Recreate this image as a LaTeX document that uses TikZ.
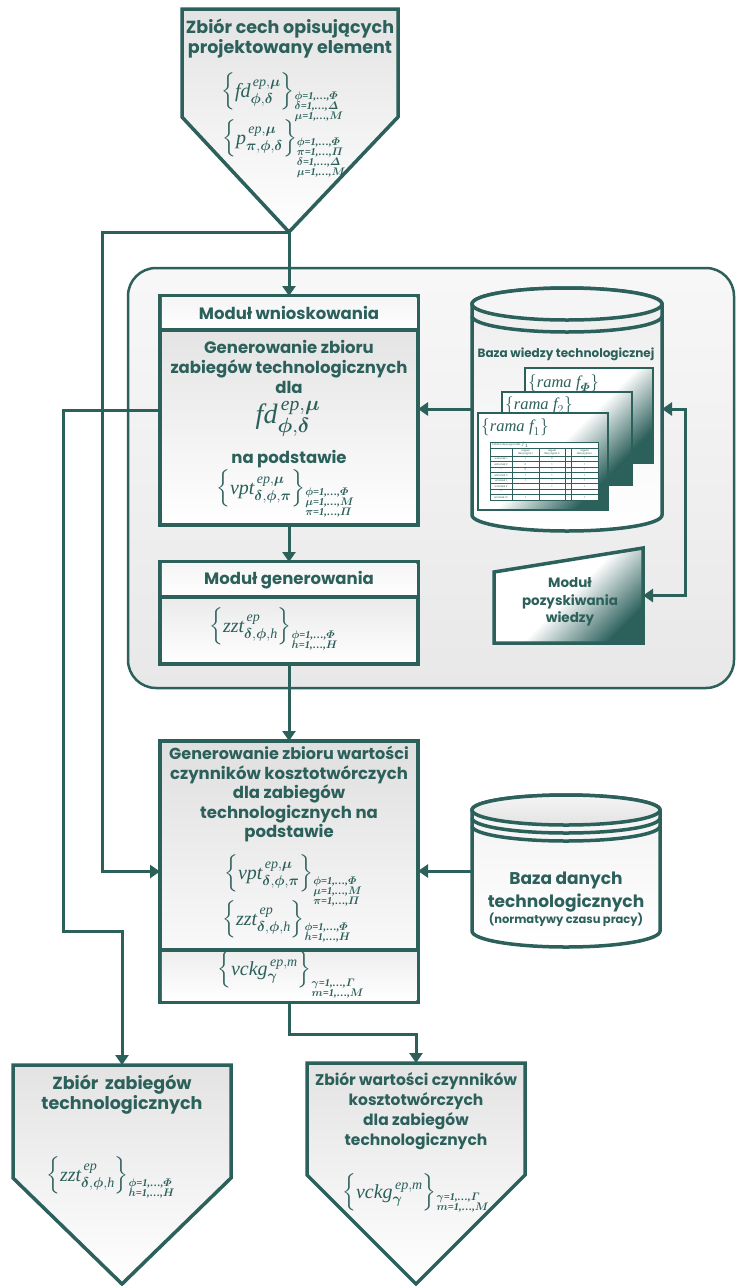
\documentclass[tikz,border=0pt]{standalone}
\usepackage{amsmath}
\usepackage{fontspec}
\setmainfont{Poppins}
\newfontfamily\timesf{Liberation Serif}
\usetikzlibrary{arrows.meta}
\definecolor{tl}{RGB}{44,96,91}
\newcommand\tv[1]{\text{\timesf\itshape #1}}
\newcommand\tq[1]{{\timesf\bfseries\itshape #1}}
\newcommand\rw[2]{$#1$\tq{=1,\dots,}$#2$}
\newcommand\lst[2]{\raisebox{#1}{\fontsize{10.5}{9}\selectfont\boldmath\begin{tabular}[t]{@{}l@{}}#2\end{tabular}}}
\newcommand\fset[3]{$\Bigl\{\tv{#1}^{\,#2}_{#3}\Bigr\}$}
\newcommand\bs[1]{\boldsymbol{#1}}
\tikzset{
  conn/.style={draw=tl, line width=3pt, -{Triangle[length=10pt,width=13pt]}},
  conntwo/.style={draw=tl, line width=3pt, {Triangle[length=10pt,width=13pt]}-{Triangle[length=10pt,width=13pt]}},
  bxnode/.style={draw=tl, line width=3.5pt, inner sep=0pt, outer sep=0pt},
  inv/.style={inner sep=0pt, outer sep=0pt},
  bord/.style={draw=tl, line width=3.5pt},
  txt/.style={text=tl, font=\bfseries\fontsize{16.5}{18}\selectfont, inner sep=0pt, anchor=base},
  btxt/.style={txt, font=\bfseries\fontsize{17.5}{18}\selectfont},
  rtxt/.style={txt, font=\bfseries\fontsize{15.5}{18}\selectfont},
  stxt/.style={text=tl, font=\bfseries\fontsize{13.5}{16}\selectfont, inner sep=0pt, anchor=base},
  fm/.style={text=tl, font=\fontsize{20}{22}\selectfont, inner sep=0pt, anchor=base west},
  frame/.style={draw=tl, line width=2.5pt, top color=white, bottom color=tl, middle color=white, shading angle=45},
  tb/.style={text=tl, font=\fontsize{2.6}{3}\selectfont, inner sep=0pt, align=center},
}
\begin{document}
\begin{tikzpicture}[x=1pt,y=-1pt]
\useasboundingbox (0,0) rectangle (736,1286);
% container
\path[draw=tl, line width=2.5pt, rounded corners=28pt, top color=gray!6, bottom color=gray!18] (128,268) rectangle (734,688);

% top pentagon
\path[bord, top color=gray!22, bottom color=white] (182,9) -- (398,9) -- (398,117) -- (289,232) -- (182,117) -- cycle;
\coordinate (tip1) at (289,232);
\coordinate (lx) at (102,232);
\node[btxt] (a1) at (290,33) {Zbiór cech opisujących};
\node[btxt] (a2) at (290,53) {projektowany element};
\node[fm] (a3) at (221,97) {\fset{fd}{\tv{ep},\bs\mu}{\bs\phi,\bs\delta}\lst{-2pt}{\rw\phi\varPhi\\\rw\delta\varDelta\\\rw\mu M}};
\node[fm] (a4) at (222,144) {\fset{p}{\tv{ep},\bs\mu}{\bs\pi,\bs\phi,\bs\delta}\lst{-1pt}{\rw\phi\varPhi\\\rw\pi\varPi\\\rw\delta\varDelta\\\rw\mu M}};

% Modul wnioskowania
\node[bxnode, minimum width=258pt, minimum height=229pt, top color=gray!25, bottom color=white] (wn) at (289,410.5) {};
\fill[top color=gray!8, bottom color=white] (161.75,297.75) rectangle (416.25,330);
\draw[bord] (160,330) -- (418,330);
\node[txt] (b1) at (289,319) {Moduł wnioskowania};
\node[txt] (b2) at (289,353) {Generowanie zbioru};
\node[txt] (b3) at (289,373) {zabiegów technologicznych};
\node[txt] (b4) at (289,393) {dla};
\node[fm, font=\fontsize{28}{30}\selectfont, anchor=base] (b5) at (288,423) {$\tv{fd}^{\,\tv{ep},\bs\mu}_{\bs\phi,\bs\delta}$};
\node[txt] (b6) at (289,463) {na podstawie};
\node[fm] (b7) at (216,494) {\fset{vpt}{\tv{ep},\bs\mu}{\bs\delta,\bs\phi,\bs\pi}\lst{-1pt}{\rw\phi\varPhi\\\rw\mu M\\\rw\pi\varPi}};

% Modul generowania
\node[bxnode, minimum width=258pt, minimum height=102pt, top color=gray!25, bottom color=white] (mg) at (289,613) {};
\fill[top color=gray!8, bottom color=white] (161.75,563.75) rectangle (416.25,597);
\draw[bord] (160,597) -- (418,597);
\node[txt] (c1) at (289,584) {Moduł generowania};
\node[fm] (c2) at (209,632) {\fset{zzt}{\tv{ep}}{\bs\delta,\bs\phi,\tv{h}}\lst{-6pt}{\rw\phi\varPhi\\\rw h H}};

% knowledge base cylinder
\path[bord, top color=gray!14, bottom color=white] (472,304) -- (472,515) arc[start angle=180, end angle=360, x radius=95pt, y radius=16pt] -- (662,304) arc[start angle=0, end angle=180, x radius=95pt, y radius=16pt] -- cycle;
\path[bord, fill=gray!8] (567,304) ellipse [x radius=95pt, y radius=16pt];
\draw[bord] (472,316) arc[start angle=180, end angle=360, x radius=95pt, y radius=16pt];
\node[inv, minimum width=190pt, minimum height=244pt] (kb) at (567,409) {};
\node[txt, font=\bfseries\fontsize{12}{13}\selectfont] (k1) at (566,357) {Baza wiedzy technologicznej};
\path[frame] (525,368) rectangle (653,463);
\path[frame] (502,392) rectangle (632,485);
\path[frame] (478,413) rectangle (608,510);
\node[fm, font=\fontsize{16.5}{17}\selectfont] (k2) at (528,387) {$\{$\tv{rama} $\tv{f}_{\bs\varPhi}\}$};
\node[fm, font=\fontsize{16.5}{17}\selectfont] (k3) at (505,409) {$\{$\tv{rama} $\tv{f}_{2}\}$};
\node[fm, font=\fontsize{16.5}{17}\selectfont] (k4) at (481,431) {$\{$\tv{rama} $\tv{f}_{1}\}$};
% decision table
\fill[white] (490,442) rectangle (598,500);
\begin{scope}[draw=tl, line width=0.6pt]
\draw (490,442) rectangle (598,500);
\draw (490,448) -- (598,448);
\draw (490,456) -- (598,456);
\foreach \yy in {461.5,467,472.5,478,483.5,489,494.5} \draw (490,\yy) -- (598,\yy);
\foreach \xx in {512,539,565,571} \draw (\xx,448) -- (\xx,500);
\end{scope}
\node[tb, anchor=west] (tt) at (492,445) {Tablica decyzyjna dla $f_1$};
\node[tb] (th1) at (525.5,452) {reguła\\decyzyjna 1};
\node[tb] (th2) at (552,452) {reguła\\decyzyjna 2};
\node[tb] (th3) at (568,452) {\dots};
\node[tb] (th4) at (584.5,452) {reguła\\decyzyjna n};
\foreach \lab/\a/\b/\c [count=\i] in {warunek 1/1/0/1, warunek 2/0/1/1, {\dots\dots}/0/1/1, warunek n/1/1/1, wniosek 1/1/1/1, wniosek 2/{}/1/1, {\dots\dots}/{}/{}/{}, wniosek m/1/{}/1}{
  \node[tb] (tr\i) at (501,453.25+5.5*\i) {\lab};
  \node[tb] (ta\i) at (525.5,453.25+5.5*\i) {\a};
  \node[tb] (tb\i) at (552,453.25+5.5*\i) {\b};
  \node[tb] (td\i) at (568,453.25+5.5*\i) {\dots};
  \node[tb] (tc\i) at (584.5,453.25+5.5*\i) {\c};
}

% Modul pozyskiwania wiedzy
\path[bord, top color=white, bottom color=tl, middle color=white, shading angle=45] (494,572) -- (643,548) -- (643,643) -- (494,643) -- cycle;
\node[inv, minimum width=149pt, minimum height=95pt] (mp) at (568.5,595.5) {};
\node[stxt] (m1) at (570,587) {Moduł};
\node[stxt] (m2) at (570,605) {pozyskiwania};
\node[stxt] (m3) at (570,622) {wiedzy};
\coordinate (rj1) at (685,409);
\coordinate (rj2) at (685,595.5);

% Generowanie zbioru wartosci
\node[bxnode, minimum width=258pt, minimum height=261pt, top color=gray!25, bottom color=white] (gz) at (289,871.5) {};
\fill[top color=gray!14, bottom color=white] (161.75,950) rectangle (416.25,1000.25);
\draw[bord] (160,950) -- (418,950);
\node[txt, font=\bfseries\fontsize{16}{18}\selectfont] (g1) at (289,759) {Generowanie zbioru wartości};
\node[txt] (g2) at (289,779) {czynników kosztotwórczych};
\node[txt] (g3) at (289,798) {dla zabiegów};
\node[txt] (g4) at (289,818) {technologicznych na};
\node[txt] (g5) at (289,837) {podstawie};
\node[fm] (g6) at (224,879) {\fset{vpt}{\tv{ep},\bs\mu}{\bs\delta,\bs\phi,\bs\pi}\lst{-5pt}{\rw\phi\varPhi\\\rw\mu M\\\rw\pi\varPi}};
\node[fm] (g7) at (222,925) {\fset{zzt}{\tv{ep}}{\bs\delta,\bs\phi,\tv{h}}\lst{-5pt}{\rw\phi\varPhi\\\rw h H}};
\node[fm] (g8) at (217,975) {\fset{vckg}{\tv{ep},\tv{m}}{\bs\gamma}\lst{-11pt}{\rw\gamma\varGamma\\\rw m M}};

% Baza danych cylinder
\path[bord, top color=gray!10, bottom color=white] (472,810) -- (472,931) arc[start angle=180, end angle=360, x radius=94pt, y radius=16pt] -- (660,810) arc[start angle=0, end angle=180, x radius=94pt, y radius=15pt] -- cycle;
\path[bord, top color=gray!8, bottom color=gray!22] (566,810) ellipse [x radius=94pt, y radius=15pt];
\draw[bord] (472,818) arc[start angle=180, end angle=360, x radius=94pt, y radius=15pt];
\draw[bord] (472,826) arc[start angle=180, end angle=360, x radius=94pt, y radius=15pt];
\node[inv, minimum width=188pt, minimum height=152pt] (bd) at (566,871) {};
\node[txt, font=\bfseries\fontsize{17}{18}\selectfont] (d1) at (566,884) {Baza danych};
\node[txt, font=\bfseries\fontsize{17}{18}\selectfont] (d2) at (566,907) {technologicznych};
\node[txt, font=\bfseries\fontsize{11.5}{12}\selectfont] (d3) at (566,923) {(normatywy czasu pracy)};

% bottom pentagons
\path[bord, top color=gray!22, bottom color=white] (13,1065) -- (231,1065) -- (231,1178) -- (122,1284) -- (13,1178) -- cycle;
\coordinate (zl) at (122,1065);
\coordinate (lj1) at (63,410.5);
\coordinate (lj2) at (63,931);
\node[btxt] (l1) at (122,1089) {Zbiór\, zabiegów};
\node[btxt] (l2) at (122,1109) {technologicznych};
\node[fm] (l3) at (46,1181) {\fset{zzt}{\tv{ep}}{\bs\delta,\bs\phi,\tv{h}}\lst{-5pt}{\rw\phi\varPhi\\\rw h H}};

\path[bord, top color=gray!22, bottom color=white] (307,1063) -- (525,1063) -- (525,1175) -- (416,1284) -- (307,1175) -- cycle;
\coordinate (zr) at (416,1063);
\node[rtxt] (r1) at (416,1085) {Zbiór wartości czynników};
\node[rtxt] (r2) at (416,1105) {kosztotwórczych};
\node[rtxt] (r3) at (416,1125) {dla zabiegów};
\node[rtxt] (r4) at (416,1145) {technologicznych};
\node[fm] (r5) at (342,1198) {\fset{vckg}{\tv{ep},\tv{m}}{\bs\gamma}\lst{-2pt}{\rw\gamma\varGamma\\\rw m M}};

% connectors
\draw[conn] (tip1) -- (wn.north);
\draw[conn] (tip1) -- (lx) |- (gz.west);
\draw[conn] (wn.west) -- (lj1) -- (lj2) -| (zl);
\draw[conn] (kb.west) -- (kb.west -| wn.east);
\draw[conn] (wn.south) -- (mg.north);
\draw[conn] (mg.south) -- (gz.north);
\draw[conn] (bd.west) -- (bd.west -| gz.east);
\draw[conn] (gz.south) -- ++(0,32) -| (zr);
\draw[conntwo] (kb.east) -- (rj1) -- (rj2) -- (mp.east);
\end{tikzpicture}
\end{document}
